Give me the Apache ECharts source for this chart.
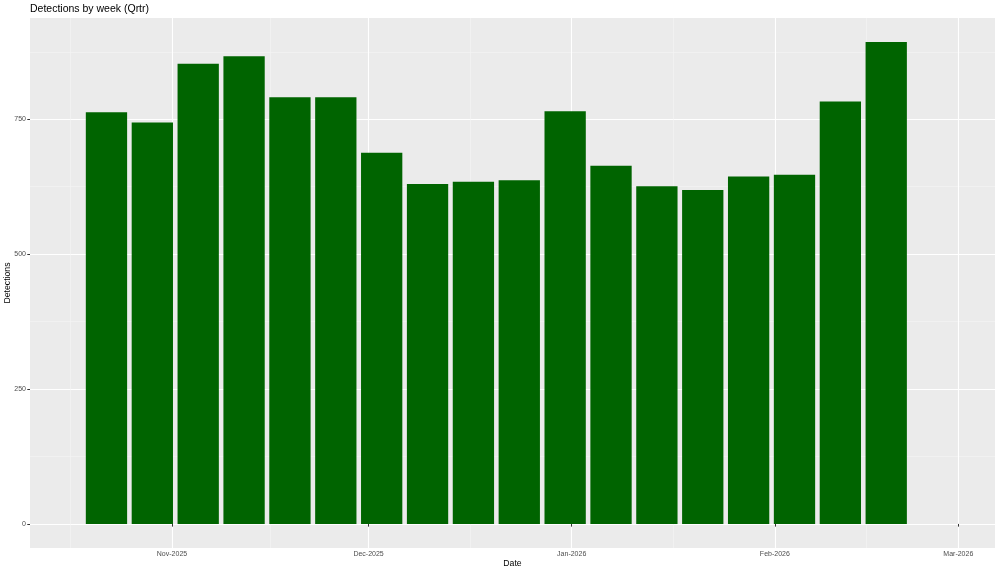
<!DOCTYPE html>
<html>
<head>
<meta charset="utf-8">
<script src="https://cdn.jsdelivr.net/npm/echarts@6/dist/echarts.min.js"></script>
<style>html,body{margin:0;padding:0;background:#fff}#c{width:1000px;height:573px}</style>
</head>
<body>
<div id="c"></div>
<script>
// Week start dates (bar centres) and detections
const weeks = ['2025-10-22','2025-10-29','2025-11-05','2025-11-12','2025-11-19','2025-11-26',
  '2025-12-03','2025-12-10','2025-12-17','2025-12-24','2025-12-31','2026-01-07',
  '2026-01-14','2026-01-21','2026-01-28','2026-02-04','2026-02-11','2026-02-18'];
const detections = [763, 744, 853, 867, 791, 791, 688, 630, 634, 637, 765, 664, 626, 619, 644, 647, 783, 893];
const monthTicks = ['2025-11-01','2025-12-01','2026-01-01','2026-02-01','2026-03-01'];
const monthMinor = ['2025-10-16T12:00','2025-11-16T00:00','2025-12-16T12:00','2026-01-16T12:00','2026-02-15T00:00'];
const yTicks = [0, 250, 500, 750];
const yMinor = [125, 375, 625, 875];
const MONTHS = ['Jan','Feb','Mar','Apr','May','Jun','Jul','Aug','Sep','Oct','Nov','Dec'];

function utc(s){ const [d,t] = s.split('T'); const [y,m,dd] = d.split('-').map(Number);
  let h=0, mi=0; if (t){ [h,mi] = t.split(':').map(Number); } return Date.UTC(y, m-1, dd, h, mi); }
const DAY = 86400000;
const ref = utc('2025-11-01');
const xMin = ref - 21.67 * DAY, xMax = ref + 125.6 * DAY;
const yMin = -44.6, yMax = 937.7;
const font = 'Liberation Sans';

const chart = echarts.init(document.getElementById('c'), null, {renderer: 'canvas'});
chart.setOption({
  animation: false,
  backgroundColor: '#ffffff',
  title: { text: 'Detections by week (Qrtr)', left: 30, top: 4, padding: 0,
    textStyle: { fontFamily: font, fontSize: 10.5, fontWeight: 'normal', color: '#000' } },
  grid: { left: 30, right: 5, top: 18, bottom: 25, show: true, backgroundColor: '#EBEBEB', borderWidth: 0,
    containLabel: false, outerBoundsMode: 'none' },
  xAxis: [{
    type: 'value', min: xMin, max: xMax,
    name: 'Date', nameLocation: 'middle', nameGap: 11, nameMoveOverlap: false,
    nameTextStyle: { fontFamily: font, fontSize: 8.7, color: '#000' },
    axisLine: { show: false },
    axisTick: { show: true, length: 2.7, lineStyle: { color: '#333', width: 1 }, customValues: monthTicks.map(utc) },
    axisLabel: { show: true, margin: 3, fontFamily: font, fontSize: 7, color: '#4D4D4D',
      customValues: monthTicks.map(utc),
      formatter: v => { const d = new Date(v); return MONTHS[d.getUTCMonth()] + '-' + d.getUTCFullYear(); } },
    splitLine: { show: true, lineStyle: { color: '#ffffff', width: 1.1 } }
  }, {
    type: 'value', min: xMin, max: xMax, position: 'bottom',
    axisLine: { show: false }, axisLabel: { show: false, customValues: monthMinor.map(utc) },
    axisTick: { show: false, customValues: monthMinor.map(utc) },
    splitLine: { show: true, lineStyle: { color: '#F5F5F5', width: 0.6 } }
  }],
  yAxis: [{
    type: 'value', min: yMin, max: yMax,
    name: 'Detections', nameLocation: 'middle', nameGap: 18, nameRotate: 90, nameMoveOverlap: false,
    nameTextStyle: { fontFamily: font, fontSize: 8.7, color: '#000' },
    axisLine: { show: false },
    axisTick: { show: true, length: 2.7, lineStyle: { color: '#333', width: 1 }, customValues: yTicks },
    axisLabel: { show: true, margin: 4, fontFamily: font, fontSize: 7, color: '#4D4D4D', customValues: yTicks },
    splitLine: { show: true, lineStyle: { color: '#ffffff', width: 1.1 } }
  }, {
    type: 'value', min: yMin, max: yMax, position: 'left',
    axisLine: { show: false }, axisLabel: { show: false, customValues: yMinor },
    axisTick: { show: false, customValues: yMinor },
    splitLine: { show: true, lineStyle: { color: '#F5F5F5', width: 0.6 } }
  }],
  series: [{
    type: 'bar', xAxisIndex: 0, yAxisIndex: 0,
    data: weeks.map((w, i) => [utc(w), detections[i]]),
    barWidth: 41.3,
    itemStyle: { color: '#006400' },
    z: 5
  }]
});
</script>
</body>
</html>
